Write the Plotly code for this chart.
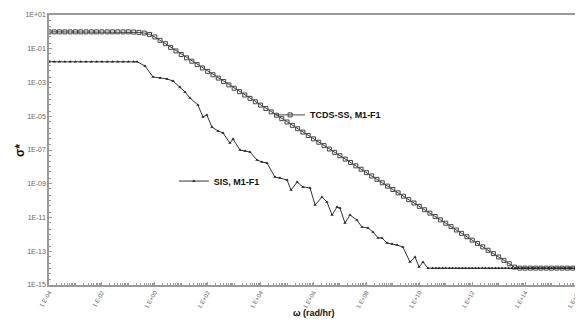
import plotly.graph_objects as go

# ---- data (log10 values) ----
tcds_logx = [round(-4 + 0.2 * i, 2) for i in range(101)]
tcds_logy = [0.0] * 16 + [
    -0.01, -0.03, -0.07, -0.15, -0.30, -0.50, -0.70, -0.92, -1.13, -1.34,
    -1.54, -1.74, -1.94, -2.14, -2.34, -2.54, -2.74, -2.94, -3.14, -3.34,
    -3.54, -3.74, -3.94, -4.14, -4.34, -4.54, -4.74, -4.94, -5.14, -5.34,
    -5.54, -5.74, -5.94, -6.14, -6.34, -6.54, -6.74, -6.94, -7.14, -7.34,
    -7.54, -7.74, -7.94, -8.14, -8.34, -8.54, -8.74, -8.94, -9.14, -9.34,
    -9.54, -9.74, -9.94, -10.14, -10.34, -10.54, -10.74, -10.94, -11.14, -11.34,
    -11.54, -11.74, -11.94, -12.14, -12.34, -12.54, -12.74, -12.94, -13.14, -13.34,
    -13.54, -13.74, -13.94, -14.0, -14.0, -14.0, -14.0, -14.0, -14.0, -14.0,
    -14.0, -14.0, -14.0, -14.0, -14.0,
]

sis_logx = [-4.0, -3.8, -3.6, -3.4, -3.2, -3.0, -2.8, -2.6, -2.4, -2.2, -2.0,
            -1.8, -1.6, -1.4, -1.2, -1.0, -0.8, -0.67, -0.37, -0.07, 0.2, 0.46,
            0.69, 0.95, 1.14, 1.33, 1.63, 1.82, 1.97, 2.16, 2.39, 2.58, 2.84,
            2.96, 3.22, 3.41, 3.60, 3.86, 4.05, 4.24, 4.54, 4.73, 5.0, 5.15,
            5.38, 5.60, 5.87, 6.06, 6.32, 6.51, 6.70, 6.89, 7.0, 7.19, 7.38,
            7.64, 7.83, 8.06, 8.25, 8.44, 8.59, 8.78, 8.97, 9.16, 9.38, 9.65,
            9.84, 9.99, 10.14, 10.33, 10.5, 10.63, 10.75, 10.88, 11.0, 11.13,
            11.25, 11.38, 11.5, 11.63, 11.75, 11.88, 12.0, 12.13, 12.25, 12.38,
            12.5, 12.63, 12.75, 12.88, 13.0, 13.13, 13.25, 13.38, 13.5, 13.63,
            13.75, 13.88, 14.0, 14.13, 14.25, 14.38, 14.5, 14.63, 14.75, 14.88,
            15.0, 15.13, 15.25, 15.38, 15.5, 15.63, 15.75, 15.88, 16.0]
sis_logy = [-1.77] * 18 + [
    -2.02, -2.67, -2.73, -2.79, -2.91, -3.27, -3.56, -3.92, -4.33, -5.04,
    -4.93, -5.64, -5.87, -5.99, -6.59, -6.35, -7.0, -7.06, -7.12, -7.59,
    -7.71, -7.77, -8.60, -8.66, -8.78, -9.37, -8.90, -9.19, -9.25, -10.26,
    -9.79, -10.08, -10.85, -10.38, -10.44, -11.33, -10.85, -11.15, -11.56, -11.62,
    -11.86, -12.21, -12.21, -12.51, -12.57, -12.63, -12.75, -13.64, -13.34, -13.93,
    -13.64, -14.0] + [-14.0] * 45

x_tickvals = [1e-4, 1e-2, 1e0, 1e2, 1e4, 1e6, 1e8, 1e10, 1e12, 1e14, 1e16]
x_ticktext = ["1.E-04", "1.E-02", "1.E+00", "1.E+02", "1.E+04", "1.E+06",
              "1.E+08", "1.E+10", "1.E+12", "1.E+14", "1.E+16"]
y_tickvals = [1e1, 1e-1, 1e-3, 1e-5, 1e-7, 1e-9, 1e-11, 1e-13, 1e-15]
y_ticktext = ["1E+01", "1E-01", "1E-03", "1E-05", "1E-07", "1E-09",
              "1E-11", "1E-13", "1E-15"]

series_names = ["TCDS-SS, M1-F1", "SIS, M1-F1"]
x_title = "ω (rad/hr)"
y_title = "σ*"

FONT = "Liberation Sans, Arial, sans-serif"

fig = go.Figure()
fig.add_trace(go.Scatter(
    x=[10 ** v for v in tcds_logx], y=[10 ** v for v in tcds_logy],
    mode="lines+markers", name=series_names[0],
    line=dict(color="#444444", width=1),
    marker=dict(symbol="square-open", size=4, color="#444444", line=dict(width=1)),
    legend="legend",
))
fig.add_trace(go.Scatter(
    x=[10 ** v for v in sis_logx], y=[10 ** v for v in sis_logy],
    mode="lines+markers", name=series_names[1],
    line=dict(color="#333333", width=1),
    marker=dict(symbol="triangle-up", size=3, color="#222222"),
    legend="legend2",
))

legend_common = dict(
    bgcolor="rgba(0,0,0,0)", borderwidth=0,
    font=dict(family=FONT, size=9, color="#111111", weight="bold"),
    xanchor="left", yanchor="middle", itemwidth=30,
)
# page body has an 8px default margin, so the figure is sized to fit the window
fig.update_layout(
    width=575, height=312,
    margin=dict(l=41, r=5, t=7, b=35, autoexpand=False),
    paper_bgcolor="white", plot_bgcolor="white",
    font=dict(family=FONT, color="#555555"),
    showlegend=True,
    legend=dict(x=0.418, y=0.63, **legend_common),
    legend2=dict(x=0.236, y=0.385, **legend_common),
    xaxis=dict(
        type="log", range=[-4, 16], automargin=False,
        tickmode="array", tickvals=x_tickvals, ticktext=x_ticktext,
        tickangle=-60, tickfont=dict(size=6, color="#666666"),
        showgrid=False, zeroline=False,
        showline=True, mirror=True, linecolor="#999999", linewidth=1.5,
        ticks="inside", ticklen=3, tickcolor="#999999",
        minor=dict(ticks="inside", ticklen=2, tickcolor="#999999", dtick="D1", showgrid=False),
    ),
    yaxis=dict(
        type="log", range=[-15, 1], automargin=False,
        tickmode="array", tickvals=y_tickvals, ticktext=y_ticktext,
        tickfont=dict(size=7, color="#666666"),
        showgrid=False, zeroline=False,
        showline=True, mirror=True, linecolor="#999999", linewidth=1.5,
        ticks="inside", ticklen=3, tickcolor="#999999",
        minor=dict(ticks="inside", ticklen=2, tickcolor="#999999", dtick="D2", showgrid=False),
    ),
    annotations=[
        dict(text=x_title, xref="paper", yref="paper", x=0.5, y=-0.104,
             xanchor="center", yanchor="middle", showarrow=False,
             font=dict(size=9, color="#111111", family=FONT, weight="bold")),
        dict(text=y_title, xref="paper", yref="paper", x=-0.055, y=0.5,
             xanchor="center", yanchor="middle", showarrow=False, textangle=-90,
             font=dict(size=12, color="#111111", family=FONT, weight="bold")),
    ],
)

fig.write_html("out.html")
